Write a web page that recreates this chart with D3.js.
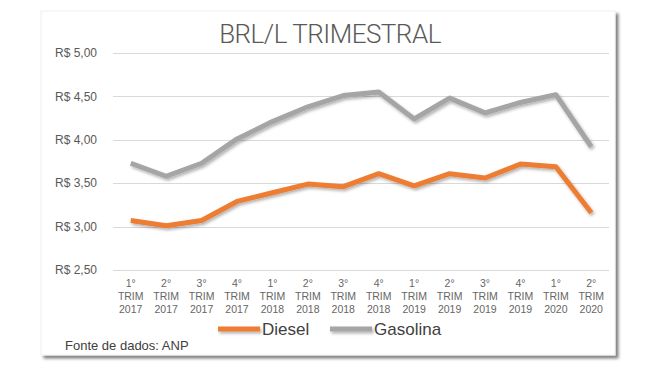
<!DOCTYPE html>
<meta charset="utf-8">
<script src="https://d3js.org/d3.v7.min.js"></script>
<style>
  body { margin: 0; background: #fff; }
</style>
<div id="chart"></div>
<script>
// quarters shown on the x axis (3 lines each)
var quarters = ["1°", "2°", "3°", "4°", "1°", "2°", "3°", "4°", "1°", "2°", "3°", "4°", "1°", "2°"];
var years = ["2017", "2017", "2017", "2017", "2018", "2018", "2018", "2018", "2019", "2019", "2019", "2019", "2020", "2020"];
var diesel = [3.07, 3.01, 3.07, 3.29, 3.39, 3.49, 3.46, 3.61, 3.47, 3.61, 3.56, 3.72, 3.69, 3.16];
var gasolina = [3.73, 3.58, 3.73, 4.01, 4.21, 4.38, 4.51, 4.55, 4.24, 4.48, 4.31, 4.43, 4.52, 3.92];
var yTicks = [2.5, 3.0, 3.5, 4.0, 4.5, 5.0];

var W = 649, H = 370;
var svg = d3.select("#chart").append("svg")
  .attr("width", W).attr("height", H);

var defs = svg.append("defs");
var sh = defs.append("filter").attr("id", "shadow")
  .attr("filterUnits", "userSpaceOnUse")
  .attr("x", 0).attr("y", 0).attr("width", W).attr("height", H);
sh.append("feDropShadow").attr("dx", 1.5).attr("dy", 2).attr("stdDeviation", 1.5)
  .attr("flood-color", "#000").attr("flood-opacity", 0.3);
var bs = defs.append("filter").attr("id", "boxshadow")
  .attr("x", "-5%").attr("y", "-5%").attr("width", "110%").attr("height", "110%");
bs.append("feDropShadow").attr("dx", 3).attr("dy", 3).attr("stdDeviation", 1.5)
  .attr("flood-color", "#000").attr("flood-opacity", 0.5);

// chart area box
svg.append("rect")
  .attr("x", 41).attr("y", 11).attr("width", 574).attr("height", 344)
  .attr("fill", "#fff").attr("stroke", "#f0f0f0")
  .attr("filter", "url(#boxshadow)");

var x = d3.scaleBand().domain(d3.range(quarters.length)).range([113, 609]);
var y = d3.scaleLinear().domain([2.5, 5.0]).range([270, 53]);
var cx = i => x(i) + x.bandwidth() / 2;

// gridlines
svg.append("g").selectAll("line").data(yTicks).enter().append("line")
  .attr("x1", 113).attr("x2", 609)
  .attr("y1", d => Math.round(y(d)) + 0.5).attr("y2", d => Math.round(y(d)) + 0.5)
  .attr("stroke", "#d9d9d9").attr("stroke-width", 1);

// y labels
var fmt = d => "R$ " + d.toFixed(2).replace(".", ",");
svg.append("g").selectAll("text").data(yTicks).enter().append("text")
  .attr("x", 97).attr("y", d => y(d)).attr("dy", "0.35em")
  .attr("text-anchor", "end")
  .style("font", "12px 'Liberation Sans', Arial, sans-serif")
  .style("fill", "#595959")
  .text(fmt);

// x labels
var xl = svg.append("g").selectAll("text").data(quarters).enter().append("text")
  .attr("text-anchor", "middle")
  .style("font", "10.5px 'Liberation Sans', Arial, sans-serif")
  .style("fill", "#666");
xl.append("tspan").attr("x", (d, i) => cx(i)).attr("y", 287).text(d => d);
xl.append("tspan").attr("x", (d, i) => cx(i)).attr("y", 300).text("TRIM");
xl.append("tspan").attr("x", (d, i) => cx(i)).attr("y", 313).text((d, i) => years[i]);

// lines
var line = d3.line().x((d, i) => cx(i)).y(d => y(d));
svg.append("path").datum(gasolina).attr("d", line)
  .attr("fill", "none").attr("stroke", "#a5a5a5").attr("stroke-width", 5)
  .attr("stroke-linejoin", "round").attr("filter", "url(#shadow)");
svg.append("path").datum(diesel).attr("d", line)
  .attr("fill", "none").attr("stroke", "#ed7d31").attr("stroke-width", 5)
  .attr("stroke-linejoin", "round").attr("filter", "url(#shadow)");

// title
svg.append("text")
  .attr("x", 330).attr("y", 43)
  .attr("text-anchor", "middle")
  .style("font", "300 26px Roboto, sans-serif")
  .style("letter-spacing", "-0.5px")
  .style("fill", "#595959")
  .text("BRL/L TRIMESTRAL");

// legend
var legend = [{name: "Diesel", color: "#ed7d31", x: 218}, {name: "Gasolina", color: "#a5a5a5", x: 330}];
var lg = svg.append("g").selectAll("g").data(legend).enter().append("g");
lg.append("line")
  .attr("x1", d => d.x).attr("x2", d => d.x + 42)
  .attr("y1", 329).attr("y2", 329)
  .attr("stroke", d => d.color).attr("stroke-width", 5)
  .attr("filter", "url(#shadow)");
lg.append("text")
  .attr("x", d => d.x + 44).attr("y", 329).attr("dy", "0.35em")
  .style("font", "17px 'Liberation Sans', Arial, sans-serif")
  .style("fill", "#404040")
  .text(d => d.name);

// source note
svg.append("text")
  .attr("x", 65).attr("y", 345).attr("dy", "0.35em")
  .style("font", "13px 'Liberation Sans', Arial, sans-serif")
  .style("fill", "#404040")
  .text("Fonte de dados: ANP");
</script>
